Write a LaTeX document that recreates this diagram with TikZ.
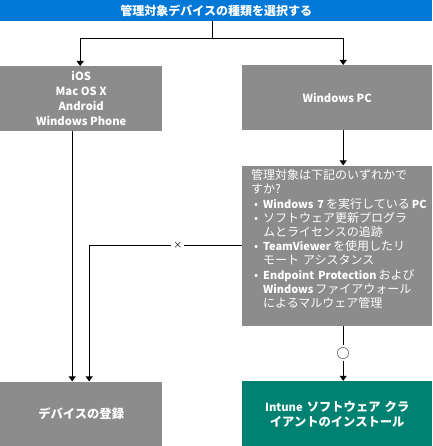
\documentclass[tikz,border=0pt]{standalone}
\usepackage{fontspec}
\setmainfont{Noto Sans CJK JP}
\newfontfamily\latinfont{Noto Sans CJK JP}[Scale=0.91]
\usetikzlibrary{positioning,arrows.meta}
\definecolor{titleblue}{HTML}{0078D7}
\definecolor{boxgray}{HTML}{8C8C8C}
\definecolor{boxteal}{HTML}{008272}
\tikzset{
  box/.style={fill=boxgray, text=white, font=\bfseries\fontsize{12.3}{15}\selectfont, align=center, inner sep=0pt},
  flow/.style={draw=black, line width=0.8pt, -{Triangle[length=5pt,width=7pt]}},
  link/.style={draw=black, line width=0.8pt},
  answer/.style={fill=white, inner sep=2pt}
}
\newcommand\lt[1]{{\latinfont\bfseries #1}}
\newcommand\bul{\hspace*{3pt}\makebox[9pt][l]{•}}
\newcommand\ind{\hspace*{12pt}}

\begin{document}
\begin{tikzpicture}[x=1pt,y=-1pt]
  \useasboundingbox (0,0) rectangle (432,446);

  \node[fill=titleblue, text=white, minimum width=432pt, minimum height=20.5pt, inner sep=0pt,
    anchor=north west, font=\bfseries\fontsize{12}{13}\selectfont] (title) at (0,0) {管理対象デバイスの種類を選択する};

  \node[box, anchor=north west, minimum width=162pt, minimum height=65pt] (os) at (0,66)
    {\lt{iOS}\\\lt{Mac OS X}\\\lt{Android}\\\lt{Windows Phone}};
  \node[box, anchor=north west, minimum width=190pt, minimum height=65pt] (winpc) at (242,65) {\lt{Windows PC}};

  \node[box, below=35pt of winpc, minimum width=190pt, minimum height=160pt, text width=172pt,
    align=left, font=\fontsize{12}{14.2}\selectfont] (question)
    {管理対象は下記のいずれかで\\
     すか?\\
     \mbox{\bul\lt{Windows 7}\,を実行している\,\lt{PC}}\\
     \bul ソフトウェア更新プログラ\\
     \ind ムとライセンスの追跡\\
     \bul\lt{TeamViewer}\,を使用したリ\\
     \ind モート アシスタンス\\
     \mbox{\bul\lt{Endpoint Protection}\,および}\\
     \ind\lt{Windows}\,ファイアウォール\\
     \ind によるマルウェア管理\\
     \mbox{}};

  \node[box, below=250pt of os, minimum width=162pt, minimum height=65pt] (enroll) {デバイスの登録};
  \node[box, fill=boxteal, below=55pt of question, minimum width=190pt, minimum height=66pt,
    text width=150pt] (client) {\lt{Intune} ソフトウェア クラ\\イアントのインストール};

  % connectors
  \coordinate (split) at (212,38);
  \draw[link] (title.south -| split) -- (split);
  \draw[flow] (split) -| ([xshift=-1pt]os.north);
  \draw[flow] (split) -| ([xshift=6pt]winpc.north);
  \draw[flow] ([xshift=6pt]winpc.south) -- ([xshift=6pt]question.north);
  \draw[flow] ([xshift=-9pt]os.south) -- ([xshift=-9pt]enroll.north);

  \coordinate (bend) at ([xshift=8pt]enroll.north |- question.west);
  \draw[flow] (question.west) -- node[answer, pos=0.42, font=\fontsize{9}{10}\selectfont] {×} (bend)
    -- ([xshift=8pt]enroll.north);
  \draw[flow] ([xshift=6pt]question.south) -- node[answer, font=\fontsize{13}{14}\selectfont] {○}
    ([xshift=6pt]client.north);
\end{tikzpicture}
\end{document}
